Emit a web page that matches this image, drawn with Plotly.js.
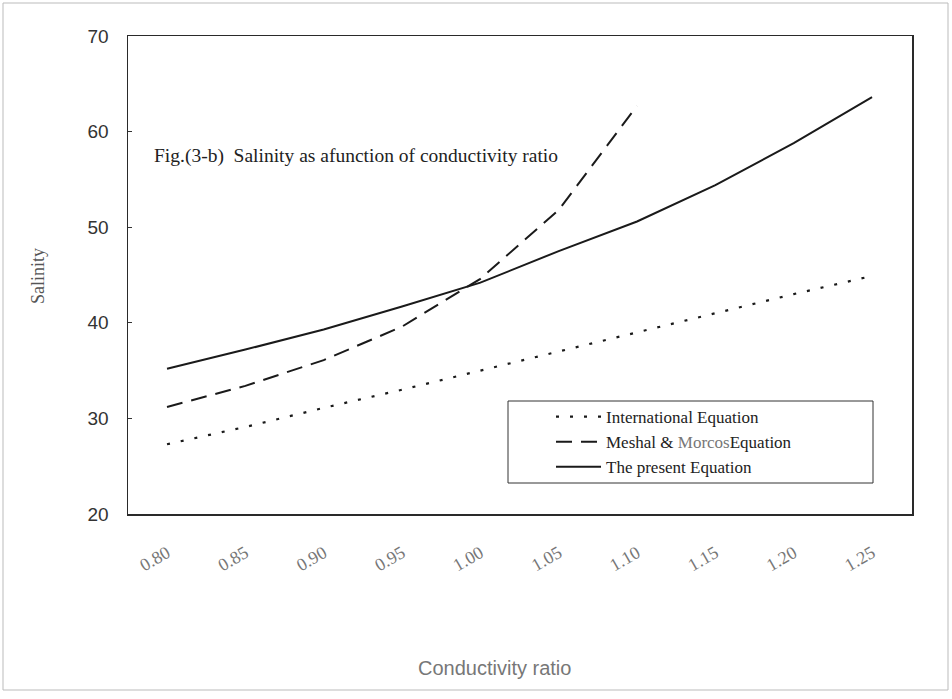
<!DOCTYPE html>
<html>
<head>
<meta charset="utf-8">
<script src="https://cdn.plot.ly/plotly-3.0.1.min.js"></script>
<style>html,body{margin:0;padding:0;background:#fff;}#chart{width:952px;height:699px;}</style>
</head>
<body>
<div id="chart"></div>
<script>
const ratio = [0.80, 0.85, 0.90, 0.95, 1.00, 1.05, 1.10, 1.15, 1.20, 1.25];
const tickLabels = ["0.80", "0.85", "0.90", "0.95", "1.00", "1.05", "1.10", "1.15", "1.20", "1.25"];
const international = [27.3, 29.1, 31.1, 33.0, 35.0, 37.0, 39.0, 41.0, 43.0, 44.9];
const meshalRatio = [0.80, 0.85, 0.90, 0.95, 1.00, 1.05, 1.10];
const meshal = [31.2, 33.4, 36.1, 39.6, 44.6, 51.8, 62.7];
const present = [35.2, 37.2, 39.3, 41.7, 44.2, 47.5, 50.6, 54.4, 58.8, 63.6];

const serif = '"Liberation Serif", "Times New Roman", serif';
const sans = '"Liberation Sans", Arial, sans-serif';

const traces = [
  {x: ratio, y: international, name: 'International Equation', mode: 'lines',
   line: {color: '#1a1a1a', width: 2.2, dash: '3px,11px'}},
  {x: meshalRatio, y: meshal, name: 'Meshal &amp; <span style="color:#777">Morcos</span>Equation', mode: 'lines',
   line: {color: '#1a1a1a', width: 2, dash: '16px,9px'}},
  {x: ratio, y: present, name: 'The present Equation', mode: 'lines',
   line: {color: '#1a1a1a', width: 2}}
];

const W = 784, H = 478, L = 128, B = 514;
const px = v => (v - L) / W;
const py = v => (B - v) / H;

const layout = {
  width: 952, height: 699,
  margin: {l: 128, r: 40, t: 36, b: 185},
  paper_bgcolor: '#fff', plot_bgcolor: '#fff',
  showlegend: true,
  legend: {x: px(551), y: py(399), xanchor: 'left', yanchor: 'top',
    borderwidth: 0, bgcolor: 'rgba(0,0,0,0)', itemwidth: 45,
    font: {family: serif, size: 17, color: '#222'}, tracegroupgap: 0},
  xaxis: {range: [0.7751, 1.2755], tickvals: ratio, ticktext: tickLabels,
    tickangle: -30, showgrid: false, zeroline: false, ticks: '',
    showline: true, linecolor: '#2a2a2a', linewidth: 1.5, mirror: true,
    ticklabelstandoff: 20,
    tickfont: {family: serif, size: 18, color: '#777'}},
  yaxis: {range: [20, 70], tickvals: [20, 30, 40, 50, 60, 70],
    showgrid: false, zeroline: false, ticks: 'inside', ticklen: 4, tickcolor: '#333',
    showline: true, linecolor: '#2a2a2a', linewidth: 1.5, mirror: true,
    ticklabelstandoff: 14,
    tickfont: {family: sans, size: 19, color: '#333'}},
  annotations: [
    {xref: 'paper', yref: 'paper', x: px(152), y: py(156), xanchor: 'left', yanchor: 'middle',
     text: 'Fig.(3-b)\u00a0 Salinity as afunction of conductivity ratio', showarrow: false,
     font: {family: serif, size: 19.5, color: '#222'}},
    {xref: 'paper', yref: 'paper', x: px(38), y: py(276), xanchor: 'center', yanchor: 'middle',
     text: 'Salinity', textangle: -90, showarrow: false,
     font: {family: serif, size: 18, color: '#555'}},
    {xref: 'paper', yref: 'paper', x: px(494), y: py(668), xanchor: 'center', yanchor: 'middle',
     text: 'Conductivity ratio', showarrow: false,
     font: {family: sans, size: 20, color: '#777'}}
  ],
  shapes: [
    {type: 'rect', xref: 'paper', yref: 'paper',
     x0: px(3), x1: px(948), y0: py(690), y1: py(3),
     line: {color: '#bbb', width: 1}},
    {type: 'rect', xref: 'paper', yref: 'paper',
     x0: px(508), x1: px(873), y0: py(483), y1: py(401),
     line: {color: '#333', width: 1}}
  ]
};

Plotly.newPlot('chart', traces, layout, {displayModeBar: false, staticPlot: true});
</script>
</body>
</html>
